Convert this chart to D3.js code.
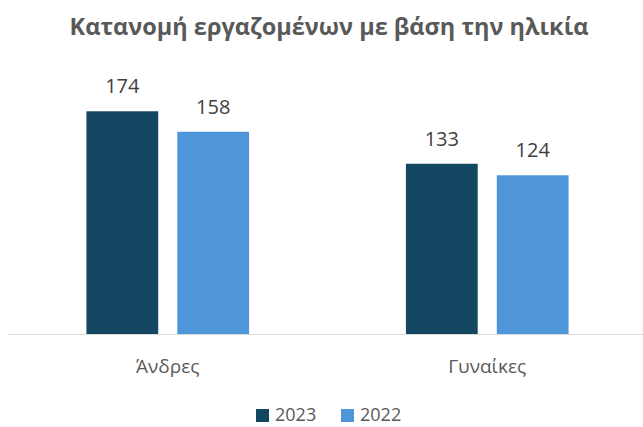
<!DOCTYPE html>
<html>
<head>
<meta charset="utf-8">
<script src="https://cdn.jsdelivr.net/npm/d3@7"></script>
<style>
  body { margin: 0; background: #fff; }
  text { font-family: "Open Sans", "Noto Sans", sans-serif; }
</style>
</head>
<body>
<script>
var categories = ["Άνδρες", "Γυναίκες"]
var years = ["2023", "2022"]
var values2023 = [174, 133]
var values2022 = [158, 124]

var svgWidth = 643
var svgHeight = 427
var colors = { "2023": "#134660", "2022": "#4e96d9" }

var rows = categories.map(function(c, i) {
    return { cat: c, vals: [ { year: "2023", v: values2023[i] }, { year: "2022", v: values2022[i] } ] }
})

var svg = d3.select("body").append("svg")
    .attr("width", svgWidth)
    .attr("height", svgHeight)

// title
svg.append("text")
    .attr("x", 329)
    .attr("y", 35)
    .attr("text-anchor", "middle")
    .attr("font-size", 23.5)
    .attr("font-weight", "bold")
    .attr("fill", "#595959")
    .text("Κατανομή εργαζομένων με βάση την ηλικία")

var x0 = d3.scaleBand()
    .domain(categories)
    .range([8, 647])
    .paddingInner(0.491)
    .paddingOuter(0.2455)

var x1 = d3.scaleBand()
    .domain(years)
    .range([0, x0.bandwidth()])
    .paddingInner(0.21)

var y = d3.scaleLinear()
    .domain([0, 200])
    .range([334, 78])

// baseline
svg.append("line")
    .attr("x1", 8)
    .attr("x2", 643)
    .attr("y1", y(0) + 0.5)
    .attr("y2", y(0) + 0.5)
    .attr("stroke", "#d9d9d9")
    .attr("stroke-width", 1)

var groups = svg.selectAll(".grp")
    .data(rows)
    .enter().append("g")
    .attr("transform", function(d) { return "translate(" + x0(d.cat) + ",0)" })

groups.selectAll("rect")
    .data(function(d) { return d.vals })
    .enter().append("rect")
    .attr("x", function(d) { return x1(d.year) })
    .attr("y", function(d) { return y(d.v) })
    .attr("width", x1.bandwidth())
    .attr("height", function(d) { return y(0) - y(d.v) })
    .attr("fill", function(d) { return colors[d.year] })

groups.selectAll(".lbl")
    .data(function(d) { return d.vals })
    .enter().append("text")
    .attr("x", function(d) { return x1(d.year) + x1.bandwidth() / 2 })
    .attr("y", function(d) { return y(d.v) - 18 })
    .attr("text-anchor", "middle")
    .attr("font-size", 20)
    .attr("fill", "#404040")
    .text(function(d) { return d.v })

// category axis labels
svg.selectAll(".cat")
    .data(categories)
    .enter().append("text")
    .attr("x", function(d) { return x0(d) + x0.bandwidth() / 2 })
    .attr("y", 373)
    .attr("text-anchor", "middle")
    .attr("font-size", 19)
    .attr("fill", "#595959")
    .text(function(d) { return d })

// legend
var legend = svg.append("g")
var legX = [256, 341]
years.forEach(function(yr, i) {
    legend.append("rect")
        .attr("x", legX[i])
        .attr("y", 409)
        .attr("width", 13)
        .attr("height", 13)
        .attr("fill", colors[yr])
    legend.append("text")
        .attr("x", legX[i] + 19)
        .attr("y", 421)
        .attr("font-size", 18)
        .attr("fill", "#595959")
        .text(yr)
})
</script>
</body>
</html>
